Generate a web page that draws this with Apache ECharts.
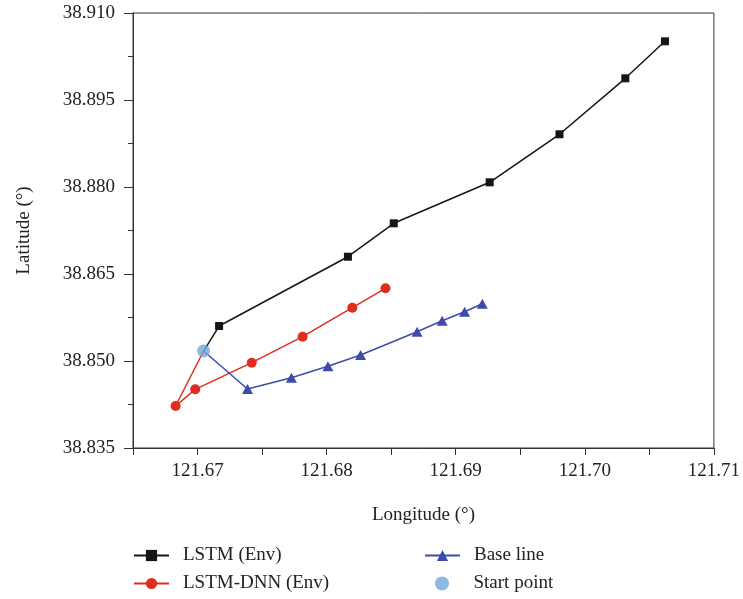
<!DOCTYPE html>
<html>
<head>
<meta charset="utf-8">
<script src="https://cdn.jsdelivr.net/npm/echarts@6/dist/echarts.min.js"></script>
<style>
  html, body { margin: 0; padding: 0; background: #fff; }
  #chart { width: 743px; height: 599px; }
</style>
</head>
<body>
<div id="chart"></div>
<script>
// start point shared by every track
const startPoint = [121.67047, 38.85172];

// LSTM (Env)
const lstmLon = [121.67167, 121.68165, 121.68520, 121.69263, 121.69804, 121.70314, 121.70621];
const lstmLat = [38.85603, 38.86798, 38.87374, 38.88081, 38.88909, 38.89874, 38.90512];

// LSTM-DNN (Env)
const dnnLon = [121.66830, 121.66982, 121.67420, 121.67814, 121.68199, 121.68456];
const dnnLat = [38.84224, 38.84512, 38.84971, 38.85419, 38.85919, 38.86253];

// Base line
const baseLon = [121.67387, 121.67727, 121.68010, 121.68263, 121.68701, 121.68895, 121.69069, 121.69206];
const baseLat = [38.84517, 38.84712, 38.84909, 38.85103, 38.85505, 38.85695, 38.85850, 38.85988];

const legendNames = ['LSTM (Env)', 'LSTM-DNN (Env)', 'Base line', 'Start point'];

const font = 'Liberation Serif';
const axisColor = '#333';

function track(lons, lats) {
  const pts = [{ value: startPoint, symbol: 'none' }];
  lons.forEach((x, i) => pts.push([x, lats[i]]));
  return pts;
}

// one legend per entry, laid out as 2 columns x 2 rows
// (scatter icon is narrower, so its legend is shifted right to line up)
const legendPos = [[133, 546], [133, 574], [424, 546], [435, 574]];
const legends = legendNames.map((n, i) => ({
  left: legendPos[i][0], top: legendPos[i][1], padding: 0,
  itemWidth: 35, itemHeight: 14,
  textStyle: { fontFamily: font, fontSize: 19, color: '#222', padding: [0, 0, 0, 9] },
  data: [n]
}));

const chart = echarts.init(document.getElementById('chart'));

chart.setOption({
  animation: false,
  grid: {
    left: 133, top: 13, right: 28, bottom: 151,
    show: true, borderColor: axisColor, borderWidth: 1, backgroundColor: 'transparent'
  },
  xAxis: {
    type: 'value',
    min: 121.665,
    max: 121.71,
    interval: 0.005,
    name: 'Longitude (°)',
    nameLocation: 'middle',
    nameGap: 58,
    nameTextStyle: { fontFamily: font, fontSize: 19, color: '#222' },
    axisLine: { show: true, lineStyle: { color: axisColor, width: 1 } },
    axisTick: { show: true, length: 7, lineStyle: { color: axisColor } },
    splitLine: { show: false },
    axisLabel: {
      margin: 14,
      fontFamily: font, fontSize: 19, color: '#222',
      formatter: v => Math.abs(v * 100 - Math.round(v * 100)) < 1e-6 ? v.toFixed(2) : ''
    }
  },
  yAxis: {
    type: 'value',
    min: 38.835,
    max: 38.910,
    interval: 0.015,
    name: 'Latitude (°)',
    nameLocation: 'middle',
    nameGap: 99,
    nameTextStyle: { fontFamily: font, fontSize: 19, color: '#222' },
    axisLine: { show: true, lineStyle: { color: axisColor, width: 1 } },
    axisTick: { show: true, length: 9, lineStyle: { color: axisColor } },
    minorTick: { show: true, splitNumber: 2, length: 5, lineStyle: { color: axisColor } },
    splitLine: { show: false },
    axisLabel: {
      margin: 18,
      fontFamily: font, fontSize: 19, color: '#222',
      formatter: v => v.toFixed(3)
    }
  },
  legend: legends,
  series: [
    {
      name: legendNames[0], type: 'line',
      data: track(lstmLon, lstmLat),
      symbol: 'rect', symbolSize: 8,
      itemStyle: { color: '#151515' },
      lineStyle: { color: '#151515', width: 1.5 },
      z: 2
    },
    {
      name: legendNames[1], type: 'line',
      data: track(dnnLon, dnnLat),
      symbol: 'circle', symbolSize: 10,
      itemStyle: { color: '#DE2E1E' },
      lineStyle: { color: '#DE2E1E', width: 1.5 },
      z: 3
    },
    {
      name: legendNames[2], type: 'line',
      data: track(baseLon, baseLat),
      symbol: 'triangle', symbolSize: [11, 10],
      itemStyle: { color: '#3F4BAA' },
      lineStyle: { color: '#3F4BAA', width: 1.5 },
      z: 4
    },
    {
      name: legendNames[3], type: 'scatter',
      data: [startPoint],
      symbol: 'circle', symbolSize: 13,
      itemStyle: { color: '#72A8DA' },
      z: 5
    }
  ]
});
</script>
</body>
</html>
